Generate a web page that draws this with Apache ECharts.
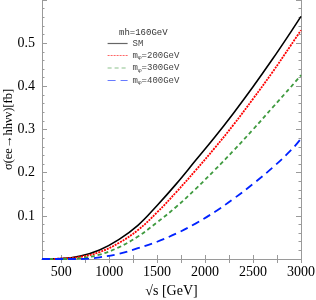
<!DOCTYPE html>
<html><head><meta charset="utf-8">
<script src="https://cdn.jsdelivr.net/npm/echarts@6/dist/echarts.min.js"></script>
<style>html,body{margin:0;padding:0;background:#fff}#c{width:316px;height:300px}</style>
</head><body><div id="c"></div>
<script>
const sqrtS = [300, 500, 700, 900, 1100, 1300, 1500, 1700, 1900, 2100, 2300, 2500, 2700, 2900, 3000];
const sm    = [0, 0.001, 0.007, 0.021, 0.045, 0.078, 0.124, 0.174, 0.228, 0.282, 0.339, 0.399, 0.462, 0.528, 0.562];
const m200  = [0, 0.001, 0.005, 0.016, 0.037, 0.067, 0.108, 0.155, 0.205, 0.257, 0.312, 0.371, 0.432, 0.497, 0.530];
const m300  = [0, 0, 0.002, 0.010, 0.027, 0.052, 0.085, 0.121, 0.162, 0.206, 0.252, 0.300, 0.350, 0.400, 0.426];
const m400  = [0, 0, 0, 0.004, 0.012, 0.025, 0.040, 0.059, 0.082, 0.109, 0.140, 0.174, 0.211, 0.253, 0.279];
const xTickLabels = [500, 1000, 1500, 2000, 2500, 3000];
const xTicks = [500, 750, 1000, 1250, 1500, 1750, 2000, 2250, 2500, 2750, 3000];
const seriesNames = ['SM', 'm200', 'm300', 'm400'];
const legendLabels = {SM: 'SM', m200: 'm{s|φ}=200GeV', m300: 'm{s|φ}=300GeV', m400: 'm{s|φ}=400GeV'};

const pair = arr => sqrtS.map((x, i) => [x, arr[i]]);
const serif = 'Liberation Serif';
const frame = '#9a9a9a';

const chart = echarts.init(document.getElementById('c'), null, {renderer: 'canvas'});
const mk = (name, data, color, type, width) => ({
  name, type: 'line', data: pair(data), symbol: 'none', showSymbol: false, smooth: 0.4,
  xAxisIndex: 0, yAxisIndex: 0,
  lineStyle: {color, width, type}, itemStyle: {color}
});
chart.setOption({
  animation: false,
  grid: {left: 42, right: 15, top: 0, bottom: 41, containLabel: false, outerBoundsMode: 'none'},
  title: {text: 'mh=160GeV', left: 114, top: 23,
    textStyle: {fontFamily: 'Liberation Mono', fontSize: 9, fontWeight: 'normal', color: '#333'}},
  legend: {
    orient: 'vertical', left: 102, top: 34, itemWidth: 20, itemHeight: 8, itemGap: 3,
    data: seriesNames,
    itemStyle: {opacity: 0},
    lineStyle: {opacity: 0.6, width: 1.2},
    formatter: n => legendLabels[n],
    textStyle: {fontFamily: 'Liberation Mono', fontSize: 9, color: '#444',
      rich: {s: {fontFamily: 'Liberation Mono', fontSize: 6, color: '#444', padding: [4, 0, 0, 0]}}}
  },
  xAxis: [{
    type: 'value', min: 300, max: 3000, position: 'bottom',
    name: '√s [GeV]', nameLocation: 'middle', nameGap: 25,
    nameTextStyle: {fontFamily: serif, fontSize: 14, color: '#000'},
    axisLine: {show: true, lineStyle: {color: frame, width: 1}},
    axisTick: {show: true, inside: true, length: 4, customValues: xTicks, lineStyle: {color: frame}},
    axisLabel: {customValues: xTickLabels, fontFamily: serif, fontSize: 14, color: '#000', margin: 6,
      formatter: v => String(v)},
    splitLine: {show: false}
  }, {
    type: 'value', min: 300, max: 3000, position: 'top',
    axisLine: {show: true, lineStyle: {color: frame, width: 1}},
    axisTick: {show: true, inside: true, length: 4, customValues: xTicks, lineStyle: {color: frame}},
    axisLabel: {show: false}, splitLine: {show: false}
  }],
  yAxis: [{
    type: 'value', min: 0, max: 0.6, interval: 0.1, position: 'left',
    name: 'σ(ee→hhνν)[fb]', nameLocation: 'middle', nameGap: 27, nameRotate: 90,
    nameMoveOverlap: false,
    nameTextStyle: {fontFamily: serif, fontSize: 12.5, color: '#000'},
    axisLine: {show: true, lineStyle: {color: frame, width: 1}},
    axisTick: {show: true, inside: true, length: 5, lineStyle: {color: frame}},
    minorTick: {show: true, splitNumber: 5, length: 2.5, lineStyle: {color: frame}},
    axisLabel: {fontFamily: serif, fontSize: 14, color: '#000', margin: 7,
      formatter: v => (v > 0.05 && v < 0.55) ? v.toFixed(1) : ''},
    splitLine: {show: false}
  }, {
    type: 'value', min: 0, max: 0.6, interval: 0.1, position: 'right',
    axisLine: {show: true, lineStyle: {color: frame, width: 1}},
    axisTick: {show: true, inside: true, length: 5, lineStyle: {color: frame}},
    minorTick: {show: true, splitNumber: 5, length: 2.5, lineStyle: {color: frame}},
    axisLabel: {show: false}, splitLine: {show: false}
  }],
  series: [
    mk(seriesNames[0], sm, '#000000', 'solid', 1.6),
    mk(seriesNames[1], m200, '#ff0000', [2, 1], 1.8),
    mk(seriesNames[2], m300, '#3f9a3f', [4, 3], 1.8),
    mk(seriesNames[3], m400, '#0022ff', [8, 5], 1.8)
  ]
});
</script></body></html>
